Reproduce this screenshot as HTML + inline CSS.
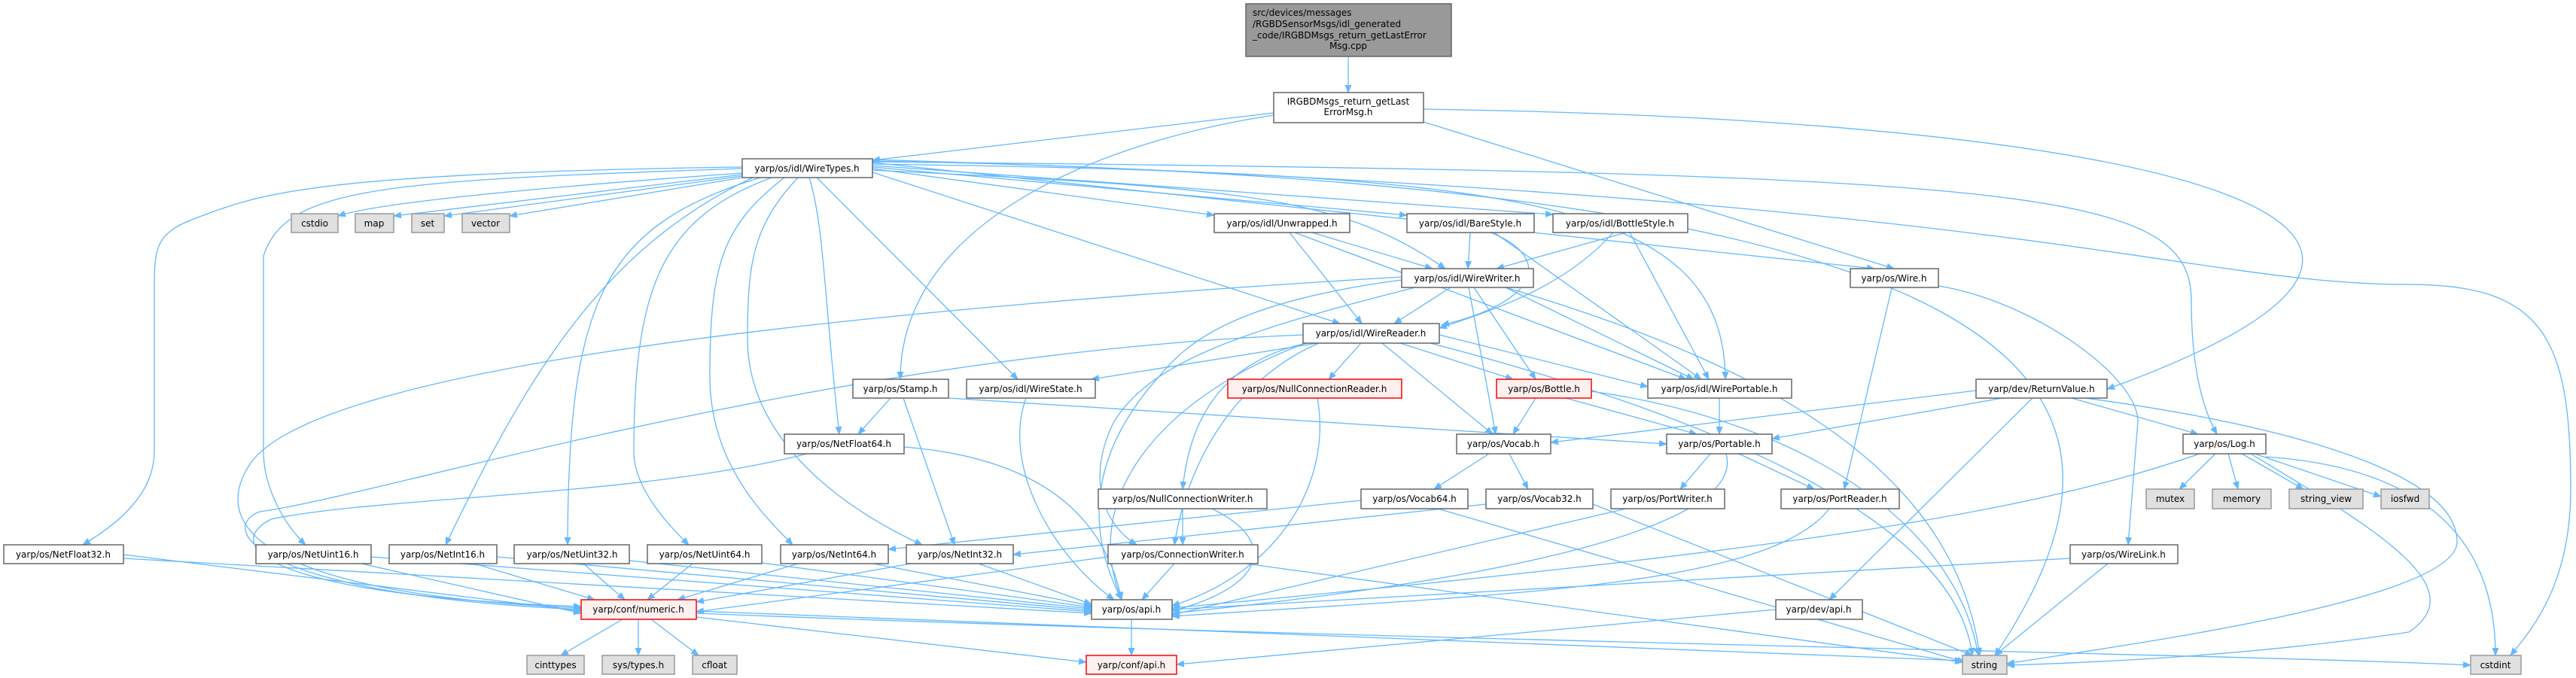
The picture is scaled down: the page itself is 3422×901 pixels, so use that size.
<!DOCTYPE html>
<html><head><meta charset="utf-8"><style>
html,body{margin:0;padding:0;background:#fff;}
svg{display:block;}
text{font-family:"DejaVu Sans","Liberation Sans",sans-serif;font-size:12px;fill:#000;}
.e path{fill:none;stroke:#63b8ff;stroke-width:1.3;marker-end:url(#a);}
.n rect{fill:#fff;stroke:#666;stroke-width:1.5;}
.g rect{fill:#e0e0e0;stroke:#999;stroke-width:1.5;}
.r rect{fill:#fff0f0;stroke:#ff0000;stroke-width:1.5;}
</style></head><body>
<svg width="3422" height="901" viewBox="0 0 3422 901" xmlns="http://www.w3.org/2000/svg">
<defs><marker id="a" markerWidth="11" markerHeight="9" refX="10" refY="4.5" orient="auto" markerUnits="userSpaceOnUse"><path d="M0,0 L11,4.5 L0,9z" fill="#63b8ff"/></marker></defs>
<g class="e">
<path d="M1791 75 L1791 123"/>
<path d="M1692 150 L1159 213"/>
<path d="M1692 153 C1450 190,1196 300,1196 504"/>
<path d="M1891 162 L2516 357"/>
<path d="M1891 145 C2900 160,3400 300,2799 517"/>
<path d="M986 230 C700 250,500 270,449 287"/>
<path d="M986 232 L523 287"/>
<path d="M986 234 L590 287"/>
<path d="M986 236 L677 287"/>
<path d="M986 222 C400 230,340 260,260 290 C205 310,205 330,205 390 L205 600 C205 660,150 700,110 724"/>
<path d="M986 224 C500 240,380 250,350 340 L350 600 C350 650,380 700,406 724"/>
<path d="M1000 236 C800 330,700 500,592 724"/>
<path d="M1010 236 C800 300,755 400,754 724"/>
<path d="M1025 236 C880 290,842 380,842 600 C842 650,890 700,915 724"/>
<path d="M1042 236 C960 300,943 350,943 500 C943 620,1020 690,1053 724"/>
<path d="M1060 236 C1000 300,993 350,993 450 C993 600,1150 690,1225 724"/>
<path d="M1075 236 C1095 300,1095 400,1115 577"/>
<path d="M1085 236 L1352 504"/>
<path d="M1159 229 L1780 430"/>
<path d="M1159 226 C1650 250,1780 260,1920 357"/>
<path d="M1159 224 L1613 286"/>
<path d="M1159 222 L1869 286"/>
<path d="M1159 220 L2063 285"/>
<path d="M1159 218 C2000 230,2290 260,2292 504"/>
<path d="M1159 216 L2490 357"/>
<path d="M1159 215 C2700 230,2911 250,2911 400 C2911 500,2930 550,2945 577"/>
<path d="M1159 214 C2700 240,2900 500,2650 871"/>
<path d="M1159 212 C2700 260,2900 378,3200 378 C3380 378,3415 450,3415 650 C3415 780,3360 840,3335 871"/>
<path d="M1743 309 L1903 357"/>
<path d="M1713 309 L1809 430"/>
<path d="M1720 309 L2240 504"/>
<path d="M1953 309 L1950 357"/>
<path d="M1980 309 C2060 340,2050 400,1915 432"/>
<path d="M1985 309 L2260 504"/>
<path d="M2160 309 L1988 357"/>
<path d="M2143 309 C2080 380,1990 410,1912 436"/>
<path d="M2165 309 L2270 504"/>
<path d="M1927 382 L1852 430"/>
<path d="M2000 382 L2250 504"/>
<path d="M1958 382 L2040 504"/>
<path d="M1951 382 L1987 577"/>
<path d="M1862 372 C1650 400,1580 450,1540 500 C1450 600,1440 700,1490 797"/>
<path d="M1880 382 C1650 440,1530 480,1480 560 C1440 640,1470 700,1510 724"/>
<path d="M2000 382 C2400 500,2600 650,2630 871"/>
<path d="M1862 368 C1000 420,400 500,330 620 C280 700,350 790,772 808"/>
<path d="M1750 456 L1450 504"/>
<path d="M1808 456 L1765 504"/>
<path d="M1740 455 C1620 480,1580 560,1571 650"/>
<path d="M1860 456 L2010 504"/>
<path d="M1836 456 L1983 577"/>
<path d="M1912 445 L2189 514"/>
<path d="M1735 456 C1560 520,1430 650,1490 797"/>
<path d="M1731 445 C1100 470,500 660,345 680 C290 700,330 790,772 810"/>
<path d="M1900 456 C2300 560,2600 700,2620 871"/>
<path d="M1752 456 C1650 500,1580 600,1560 724"/>
<path d="M1072 603 C850 660,500 660,360 690 C300 720,330 790,772 806"/>
<path d="M1183 529 L1140 577"/>
<path d="M1200 529 L1268 724"/>
<path d="M1260 529 L2214 590"/>
<path d="M1363 529 C1330 620,1400 740,1480 797"/>
<path d="M1201 594 C1400 610,1470 700,1490 797"/>
<path d="M1750 529 C1770 640,1700 760,1557 805"/>
<path d="M2040 529 L2010 577"/>
<path d="M2080 529 L2254 577"/>
<path d="M2114 520 C2400 560,2600 700,2628 871"/>
<path d="M1978 603 L1905 650"/>
<path d="M2005 603 L2030 650"/>
<path d="M1808 665 L1180 730"/>
<path d="M1910 676 L2610 880"/>
<path d="M1974 670 L1346 737"/>
<path d="M2116 670 L2620 871"/>
<path d="M1571 676 L1571 724"/>
<path d="M1610 676 C1700 720,1680 780,1557 812"/>
<path d="M1560 749 L1517 797"/>
<path d="M1472 740 L925 813"/>
<path d="M1655 749 L2607 880"/>
<path d="M2284 529 L2284 577"/>
<path d="M2272 603 L2232 650"/>
<path d="M2310 603 L2410 650"/>
<path d="M2293 603 C2320 700,2000 770,1557 815"/>
<path d="M2160 676 L1557 817"/>
<path d="M2430 676 C2350 780,2000 790,1557 819"/>
<path d="M2513 383 L2450 650"/>
<path d="M2575 380 C2700 400,2840 500,2840 560 L2827 724"/>
<path d="M2750 742 L1557 810"/>
<path d="M2800 749 L2650 871"/>
<path d="M2660 529 L2354 583"/>
<path d="M2625 519 L2060 588"/>
<path d="M2752 529 L2920 577"/>
<path d="M2700 529 L2430 797"/>
<path d="M2770 529 C3000 560,3264 620,3264 720 C3264 800,2800 860,2666 882"/>
<path d="M3010 607 C3200 620,3315 700,3315 871"/>
<path d="M2990 603 C3150 700,3290 780,3200 840 C3000 870,2800 880,2666 884"/>
<path d="M2943 603 L2895 650"/>
<path d="M2960 603 L2973 650"/>
<path d="M2978 603 L3060 650"/>
<path d="M2995 603 L3163 660"/>
<path d="M2922 603 C2700 680,2400 730,1557 808"/>
<path d="M2359 810 L1563 883"/>
<path d="M827 823 L745 871"/>
<path d="M848 823 L848 871"/>
<path d="M865 823 L928 871"/>
<path d="M925 820 L1443 880"/>
<path d="M925 815 C1800 850,3000 870,3282 884"/>
<path d="M925 812 L2607 878"/>
<path d="M1503 823 L1503 871"/>
<path d="M164 737 L772 812"/><path d="M164 742 L1450 815"/>
<path d="M480 749 L772 815"/><path d="M493 740 L1450 813"/>
<path d="M630 749 L790 797"/><path d="M660 740 L1450 811"/>
<path d="M775 749 L830 797"/><path d="M836 745 L1450 809"/>
<path d="M920 749 L860 797"/><path d="M1012 748 L1450 807"/>
<path d="M1060 749 L900 797"/><path d="M1160 749 L1450 805"/>
<path d="M1210 749 L925 800"/><path d="M1300 749 L1450 803"/>
</g>
<!-- nodes -->
<g><rect x="1655" y="5" width="273" height="70" fill="#999" stroke="#666" stroke-width="1.5"/>
<text x="1664" y="21">src/devices/messages</text>
<text x="1664" y="36">/RGBDSensorMsgs/idl_generated</text>
<text x="1664" y="51">_code/IRGBDMsgs_return_getLastError</text>
<text x="1791" y="65" text-anchor="middle">Msg.cpp</text></g>
<g class="n"><rect x="1692" y="123" width="199" height="40"/>
<text x="1791" y="139" text-anchor="middle">IRGBDMsgs_return_getLast</text>
<text x="1791" y="153" text-anchor="middle">ErrorMsg.h</text></g>
<g class="n" text-anchor="middle">
<rect x="986" y="211" width="173" height="25"/><text x="1072" y="228" text-anchor="middle">yarp/os/idl/WireTypes.h</text>
<rect x="1613" y="284" width="180" height="25"/><text x="1703" y="301" text-anchor="middle">yarp/os/idl/Unwrapped.h</text>
<rect x="1869" y="284" width="169" height="25"/><text x="1953" y="301" text-anchor="middle">yarp/os/idl/BareStyle.h</text>
<rect x="2063" y="284" width="179" height="25"/><text x="2152" y="301" text-anchor="middle">yarp/os/idl/BottleStyle.h</text>
<rect x="1862" y="357" width="175" height="25"/><text x="1949" y="374" text-anchor="middle">yarp/os/idl/WireWriter.h</text>
<rect x="2458" y="357" width="117" height="25"/><text x="2516" y="374" text-anchor="middle">yarp/os/Wire.h</text>
<rect x="1731" y="430" width="181" height="26"/><text x="1821" y="447" text-anchor="middle">yarp/os/idl/WireReader.h</text>
<rect x="1133" y="504" width="127" height="25"/><text x="1196" y="521" text-anchor="middle">yarp/os/Stamp.h</text>
<rect x="1284" y="504" width="171" height="25"/><text x="1369" y="521" text-anchor="middle">yarp/os/idl/WireState.h</text>
<rect x="2189" y="504" width="191" height="25"/><text x="2284" y="521" text-anchor="middle">yarp/os/idl/WirePortable.h</text>
<rect x="2625" y="504" width="174" height="25"/><text x="2712" y="521" text-anchor="middle">yarp/dev/ReturnValue.h</text>
<rect x="1042" y="577" width="159" height="26"/><text x="1121" y="594" text-anchor="middle">yarp/os/NetFloat64.h</text>
<rect x="1935" y="577" width="125" height="26"/><text x="1997" y="594" text-anchor="middle">yarp/os/Vocab.h</text>
<rect x="2214" y="577" width="140" height="26"/><text x="2284" y="594" text-anchor="middle">yarp/os/Portable.h</text>
<rect x="2900" y="577" width="110" height="26"/><text x="2955" y="594" text-anchor="middle">yarp/os/Log.h</text>
<rect x="1459" y="650" width="224" height="26"/><text x="1571" y="667" text-anchor="middle">yarp/os/NullConnectionWriter.h</text>
<rect x="1808" y="650" width="142" height="26"/><text x="1879" y="667" text-anchor="middle">yarp/os/Vocab64.h</text>
<rect x="1974" y="650" width="142" height="26"/><text x="2045" y="667" text-anchor="middle">yarp/os/Vocab32.h</text>
<rect x="2140" y="650" width="151" height="26"/><text x="2215" y="667" text-anchor="middle">yarp/os/PortWriter.h</text>
<rect x="2366" y="650" width="157" height="26"/><text x="2444" y="667" text-anchor="middle">yarp/os/PortReader.h</text>
<rect x="5" y="724" width="159" height="25"/><text x="84" y="741" text-anchor="middle">yarp/os/NetFloat32.h</text>
<rect x="340" y="724" width="153" height="25"/><text x="416" y="741" text-anchor="middle">yarp/os/NetUint16.h</text>
<rect x="517" y="724" width="143" height="25"/><text x="588" y="741" text-anchor="middle">yarp/os/NetInt16.h</text>
<rect x="683" y="724" width="153" height="25"/><text x="760" y="741" text-anchor="middle">yarp/os/NetUint32.h</text>
<rect x="860" y="724" width="152" height="25"/><text x="936" y="741" text-anchor="middle">yarp/os/NetUint64.h</text>
<rect x="1037" y="724" width="143" height="25"/><text x="1108" y="741" text-anchor="middle">yarp/os/NetInt64.h</text>
<rect x="1204" y="724" width="142" height="25"/><text x="1275" y="741" text-anchor="middle">yarp/os/NetInt32.h</text>
<rect x="1472" y="724" width="199" height="25"/><text x="1571" y="741" text-anchor="middle">yarp/os/ConnectionWriter.h</text>
<rect x="2750" y="724" width="143" height="25"/><text x="2821" y="741" text-anchor="middle">yarp/os/WireLink.h</text>
<rect x="1450" y="797" width="107" height="26"/><text x="1503" y="814" text-anchor="middle">yarp/os/api.h</text>
<rect x="2359" y="797" width="115" height="26"/><text x="2416" y="814" text-anchor="middle">yarp/dev/api.h</text>
</g>
<g class="r">
<rect x="1631" y="504" width="231" height="25"/><text x="1746" y="521" text-anchor="middle">yarp/os/NullConnectionReader.h</text>
<rect x="1988" y="504" width="126" height="25"/><text x="2051" y="521" text-anchor="middle">yarp/os/Bottle.h</text>
<rect x="772" y="797" width="153" height="26"/><text x="848" y="814" text-anchor="middle">yarp/conf/numeric.h</text>
<rect x="1443" y="871" width="120" height="25"/><text x="1503" y="888" text-anchor="middle">yarp/conf/api.h</text>
</g>
<g class="g">
<rect x="387" y="284" width="62" height="25"/><text x="418" y="301" text-anchor="middle">cstdio</text>
<rect x="472" y="284" width="51" height="25"/><text x="497" y="301" text-anchor="middle">map</text>
<rect x="547" y="284" width="43" height="25"/><text x="568" y="301" text-anchor="middle">set</text>
<rect x="614" y="284" width="63" height="25"/><text x="645" y="301" text-anchor="middle">vector</text>
<rect x="2851" y="650" width="64" height="26"/><text x="2883" y="667" text-anchor="middle">mutex</text>
<rect x="2939" y="650" width="78" height="26"/><text x="2978" y="667" text-anchor="middle">memory</text>
<rect x="3041" y="650" width="98" height="26"/><text x="3090" y="667" text-anchor="middle">string_view</text>
<rect x="3163" y="650" width="64" height="26"/><text x="3195" y="667" text-anchor="middle">iosfwd</text>
<rect x="700" y="871" width="76" height="25"/><text x="738" y="888" text-anchor="middle">cinttypes</text>
<rect x="800" y="871" width="96" height="25"/><text x="848" y="888" text-anchor="middle">sys/types.h</text>
<rect x="920" y="871" width="59" height="25"/><text x="949" y="888" text-anchor="middle">cfloat</text>
<rect x="2607" y="871" width="59" height="25"/><text x="2636" y="888" text-anchor="middle">string</text>
<rect x="3282" y="871" width="67" height="25"/><text x="3315" y="888" text-anchor="middle">cstdint</text>
</g>
</svg>
</body></html>
